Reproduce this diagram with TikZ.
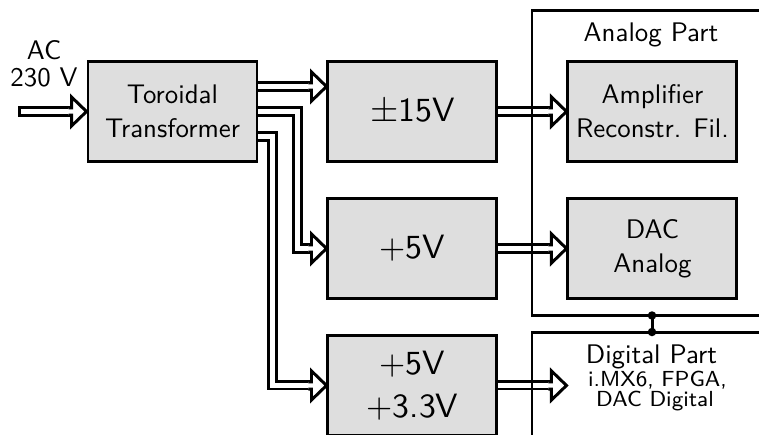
\documentclass[tikz,border=0pt]{standalone}
\usepackage{fontspec}
\setsansfont{lmsans10-regular.otf}
\newfontfamily\subfont{lmsans8-regular.otf}
\renewcommand{\familydefault}{\sfdefault}
\usetikzlibrary{positioning}

\begin{document}
\begin{tikzpicture}[
  node distance=0.68cm and 1.36cm,
  unitbox/.style={draw, line width=1.7pt, fill=black!13, minimum width=3.38cm, minimum height=2cm, align=center, font=\fontsize{15.3}{19.3}\selectfont},
  railbox/.style={unitbox, font=\fontsize{19.2}{24.4}\selectfont},
  partbox/.style={draw, line width=1.7pt, minimum width=4.8cm, outer sep=0pt},
  pwr/.style={line width=1.7pt, double, double distance=2.3pt, shorten >=0.3cm},
  pwrhead/.pic={
    \filldraw[fill=white, line width=1.7pt] (-0.36,0.0706) -- (-0.3,0.0706) -- (-0.3,0.29) -- (0,0)
      -- (-0.3,-0.29) -- (-0.3,-0.0706) -- (-0.36,-0.0706);
  },
  lbl/.style={font=\fontsize{15.3}{15.3}\selectfont, align=center, inner sep=0pt},
  sublbl/.style={font=\subfont\fontsize{12.4}{11.3}\selectfont, anchor=base, inner sep=0.5pt}
]
\useasboundingbox (0,0) rectangle (15.18,-8.68);
\clip (0,0) rectangle (15.18,-8.68);

% Transformer
\node[unitbox] (trafo) at (3.45,-2.23) {Toroidal\\Transformer};
% Supplies
\node[railbox, right=of trafo] (pm15) {$\pm$15V};
\node[railbox, below=of pm15] (p5) {+5V};
\node[railbox, below=of p5] (p5p33) {+5V\\+3.3V};
% Analog stages
\node[unitbox, right=of pm15] (amp) {Amplifier\\Reconstr. Fil.};
\node[unitbox, below=of amp] (dacana) {DAC\\Analog};

% Mains input
\coordinate (acin) at (0.46,-2.23);
\node[lbl] (ac) at (0.88,-1.28) {AC\\230 V};
\draw[pwr, line cap=rect] (acin) -- (trafo.west);
\pic at (trafo.west) {pwrhead};

% Transformer outputs
\draw[pwr] ([yshift=0.5cm]trafo.east) -- ([yshift=0.5cm]pm15.west);
\pic at ([yshift=0.5cm]pm15.west) {pwrhead};
\draw[pwr] (trafo.east) -- ++(0.78,0) |- (p5.west);
\pic at (p5.west) {pwrhead};
\draw[pwr] ([yshift=-0.5cm]trafo.east) -- ++(0.28,0) |- (p5p33.west);
\pic at (p5p33.west) {pwrhead};

% Supplies to the parts
\coordinate (digin) at (p5p33.east -| amp.west);
\draw[pwr] (pm15) -- (amp);
\pic at (amp.west) {pwrhead};
\draw[pwr] (p5) -- (dacana);
\pic at (dacana.west) {pwrhead};
\draw[pwr] (p5p33.east) -- (digin);
\pic at (digin) {pwrhead};

% Analog and digital part
\node[partbox, minimum height=6.1cm] (analog) at (13.04,-3.26) {};
\node[partbox, minimum height=4cm] (digital) at (13.04,-8.64) {};
\node[font=\fontsize{15.3}{18}\selectfont, anchor=base] (analoglbl) at (13.02,-0.82) {Analog Part};
\node[font=\fontsize{15.3}{18}\selectfont, anchor=base] (digitallbl) at (13.03,-7.27) {Digital Part};
\node[sublbl] (digitalsub) at (13.15,-7.73) {i.MX6, FPGA,};
\node[sublbl] (digitalsubb) at (13.1,-8.13) {DAC Digital};

% Common ground
\draw[line width=1.7pt] (analog.south) -- (digital.north);
\fill (analog.south) circle (0.085) (digital.north) circle (0.085);

\end{tikzpicture}
\end{document}
